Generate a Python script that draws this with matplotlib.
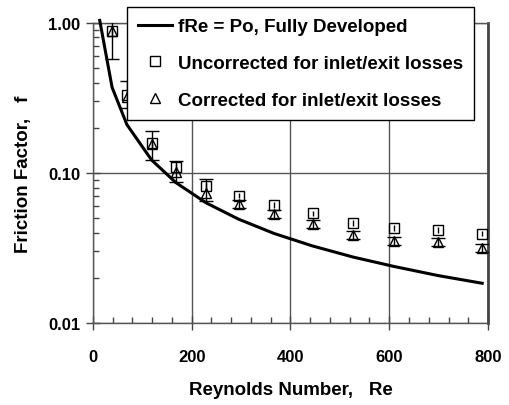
import matplotlib.pyplot as plt
import numpy as np
from matplotlib.ticker import FixedLocator, MultipleLocator, FixedFormatter, NullFormatter

plt.rcParams['font.family'] = ['Liberation Sans', 'DejaVu Sans']
plt.rcParams['font.weight'] = 'bold'

# fully developed line, f = Po / Re
re_line = [14, 39, 69, 119, 168, 229, 295, 367, 445, 527, 610, 699, 788]
f_line = [1.04, 0.372, 0.21, 0.122, 0.0863, 0.0633, 0.0492, 0.0395, 0.0326, 0.0275, 0.0238, 0.0207, 0.0184]

# measured points
re_data = [39, 69, 119, 168, 229, 295, 367, 445, 527, 610, 699, 788]
f_unc = [0.885, 0.33, 0.158, 0.109, 0.082, 0.0707, 0.0612, 0.054, 0.0464, 0.043, 0.0417, 0.0394]
f_cor = [0.885, 0.32, 0.155, 0.102, 0.0735, 0.0621, 0.0533, 0.0457, 0.0386, 0.0352, 0.0345, 0.0316]

# error bar ends (lower, upper) for corrected points
cor_lo = [0.575, 0.27, 0.1225, 0.0866, 0.0655, 0.0586, 0.0503, 0.0432, 0.0365, 0.0333, 0.0326, 0.0299]
cor_hi = [1.02, 0.41, 0.189, 0.121, 0.0909, 0.066, 0.0565, 0.0485, 0.041, 0.0374, 0.0366, 0.0335]
# small bars inside squares
unc_lo = [0.85, 0.31, 0.15, 0.104, 0.078, 0.068, 0.0588, 0.0519, 0.0446, 0.0413, 0.0401, 0.0379]
unc_hi = [0.92, 0.35, 0.166, 0.114, 0.086, 0.0735, 0.0637, 0.0562, 0.0483, 0.0447, 0.0434, 0.041]

fig = plt.figure(figsize=(5.1, 4.06), dpi=100)
ax = fig.add_axes([0.182, 0.202, 0.775, 0.739])

line, = ax.plot(re_line, f_line, color='black', lw=2.2, zorder=3, clip_on=False)

ax.errorbar(re_data, f_unc,
            yerr=[np.array(f_unc) - np.array(unc_lo), np.array(unc_hi) - np.array(f_unc)],
            fmt='none', ecolor='black', elinewidth=1.0, capsize=0, zorder=4)
ax.errorbar(re_data, f_cor,
            yerr=[np.array(f_cor) - np.array(cor_lo), np.array(cor_hi) - np.array(f_cor)],
            fmt='none', ecolor='black', elinewidth=1.0, capsize=5, capthick=1.0, zorder=4)
sq, = ax.plot(re_data, f_unc, linestyle='none', marker='s', ms=7.5, mfc='none',
              mec='black', mew=1.0, zorder=5)
tr, = ax.plot(re_data, f_cor, linestyle='none', marker='^', ms=7.5, mfc='none',
              mec='black', mew=1.0, zorder=5)

ax.set_yscale('log')
ax.set_xlim(0, 800)
ax.set_ylim(0.01, 1.0)

ax.xaxis.set_major_locator(MultipleLocator(200))
ax.xaxis.set_minor_locator(MultipleLocator(40))
ax.yaxis.set_major_locator(FixedLocator([0.01, 0.1, 1.0]))
ax.yaxis.set_major_formatter(FixedFormatter(['0.01', '0.10', '1.00']))
ax.yaxis.set_minor_formatter(NullFormatter())

ax.tick_params(axis='both', which='major', direction='inout', length=10, width=1,
               labelsize=12, color='#444444')
ax.tick_params(axis='x', which='major', pad=14)
ax.tick_params(axis='y', which='major', pad=4)
ax.tick_params(axis='both', which='minor', direction='in', length=4, width=1, color='#444444')
for lab in ax.get_xticklabels() + ax.get_yticklabels():
    lab.set_fontweight('bold')

ax.grid(True, which='major', color='#555555', lw=1.0)
for s in ['left', 'bottom', 'top']:
    ax.spines[s].set_color('#555555')
    ax.spines[s].set_linewidth(1.0)
ax.spines['right'].set_color('#444444')
ax.spines['right'].set_linewidth(2.0)

ax.set_xlabel('Reynolds Number,   Re', fontsize=13.5, fontweight='bold', labelpad=12)
ax.set_ylabel('Friction Factor,   f', fontsize=13.5, fontweight='bold', labelpad=12)

leg = fig.legend([line, sq, tr],
                 ['fRe = Po, Fully Developed', 'Uncorrected for inlet/exit losses',
                  'Corrected for inlet/exit losses'],
                 loc='upper left', bbox_to_anchor=(0.249, 0.981), fancybox=False,
                 framealpha=1, edgecolor='black', fontsize=13.5, handlelength=1.8,
                 handletextpad=0.3, labelspacing=1.05, borderpad=0.6, borderaxespad=0)
leg.set_zorder(10)
leg.get_frame().set_linewidth(1.0)
for t in leg.get_texts():
    t.set_fontweight('bold')
leg.legend_handles[1].set_markersize(7)
leg.legend_handles[2].set_markersize(7)

fig.savefig('out.png', dpi=100)
